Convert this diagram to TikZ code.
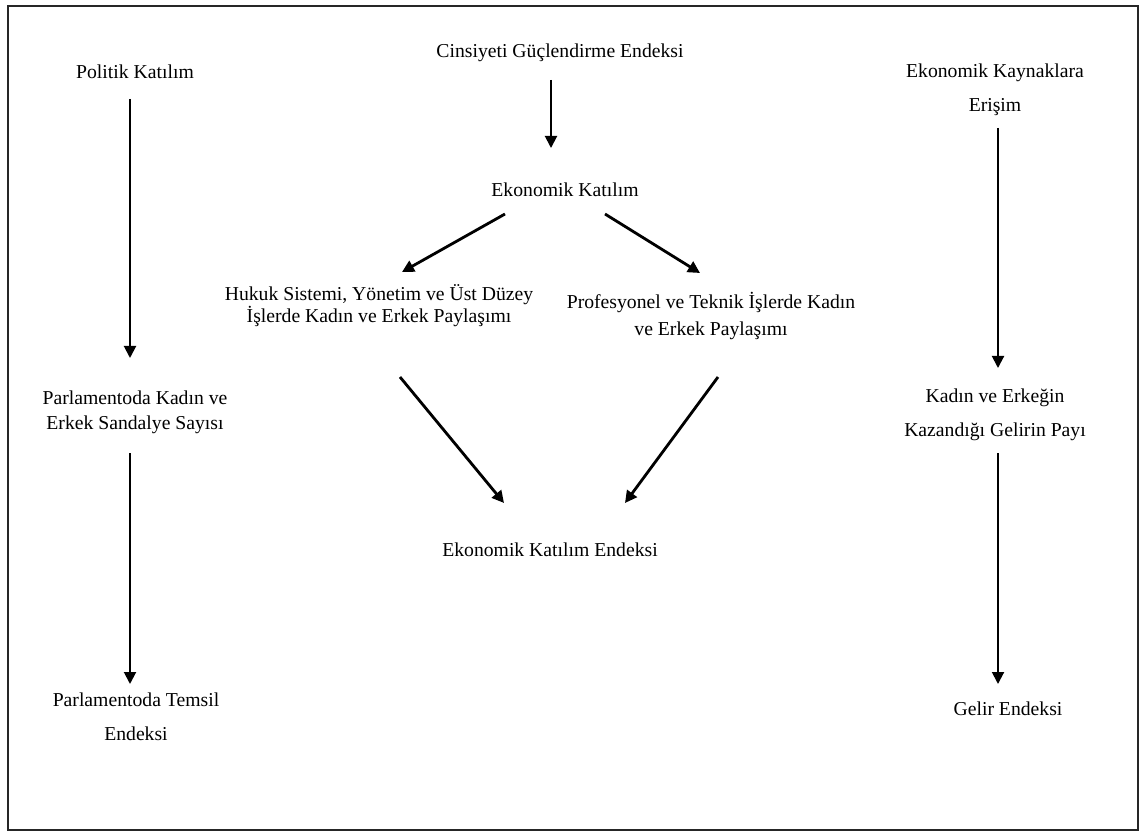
\documentclass[tikz,border=0pt]{standalone}
\usepackage{fontspec}
\setmainfont{Liberation Serif}
\usetikzlibrary{arrows.meta,calc}

\begin{document}
\begin{tikzpicture}[x=0.025cm,y=-0.025cm,
    txt/.style={align=center,inner sep=0pt,font=\fontsize{14}{24}\selectfont},
    arr/.style={-{Triangle[length=0.3cm,width=0.3cm]},line width=1.4pt},
    darr/.style={arr,line width=2pt}]
        \useasboundingbox (0,0) rectangle (1142,832);
        \draw[line width=1.3pt,black!85] (8,6) rectangle (1138,830);

        % left column
        \node[txt] at (135,72) (pol) {Politik Katılım};
        \node[txt,font=\fontsize{14}{17.7}\selectfont] at (135,412) (parlk) {Parlamentoda Kadın ve\\Erkek Sandalye Sayısı};
        \node[txt] at (136,717) (parlt) {Parlamentoda Temsil\\Endeksi};
        \draw[arr] ($(pol)+(-5,27)$) -- ($(parlk)+(-5,-54)$);
        \draw[arr] ($(parlk)+(-5,41)$) -- ($(parlt)+(-6,-33)$);

        % middle
        \node[txt] at (560,53) (cge) {Cinsiyeti Güçlendirme Endeksi};
        \node[txt] at (565,190) (ek) {Ekonomik Katılım};
        \node[txt,font=\fontsize{14}{15.6}\selectfont] at (379,306) (huk) {Hukuk Sistemi, Yönetim ve Üst Düzey\\İşlerde Kadın ve Erkek Paylaşımı};
        \node[txt,font=\fontsize{14}{19.9}\selectfont] at (711,316) (prof) {Profesyonel ve Teknik İşlerde Kadın\\ve Erkek Paylaşımı};
        \node[txt] at (550,550) (eke) {Ekonomik Katılım Endeksi};
        \draw[arr] ($(cge)+(-9,27)$) -- ($(ek)+(-14,-42)$);
        \draw[darr] ($(ek)+(-60,24)$) -- ($(huk)+(23,-34)$);
        \draw[darr] ($(ek)+(40,24)$) -- ($(prof)+(-11,-43)$);
        \draw[darr] ($(huk)+(21,71)$) -- ($(eke)+(-46,-47)$);
        \draw[darr] ($(prof)+(7,61)$) -- ($(eke)+(75,-47)$);

        % right column
        \node[txt] at (995,90) (ekr) {Ekonomik Kaynaklara\\Erişim};
        \node[txt] at (995,415) (keg) {Kadın ve Erkeğin\\Kazandığı Gelirin Payı};
        \node[txt] at (1008,709) (gel) {Gelir Endeksi};
        \draw[arr] ($(ekr)+(3,38)$) -- ($(keg)+(3,-47)$);
        \draw[arr] ($(keg)+(3,38)$) -- ($(gel)+(-10,-25)$);
\end{tikzpicture}
\end{document}
